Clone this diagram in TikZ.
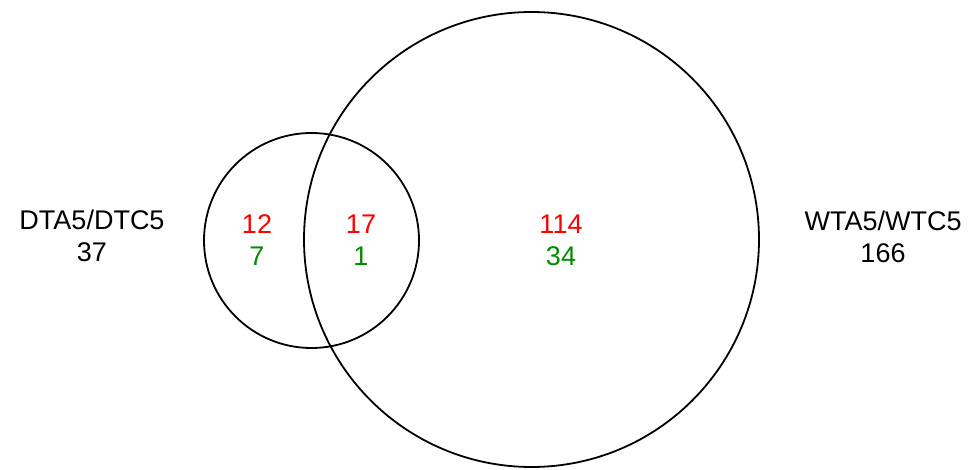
\documentclass[tikz,border=0pt]{standalone}
\usepackage{fontspec}
\setmainfont{Liberation Sans}
\usepackage{tikz}
\usetikzlibrary{positioning}
\usepackage{xcolor}
\definecolor{upred}{RGB}{255,0,0}
\definecolor{downgreen}{RGB}{0,140,0}

\begin{document}
\begin{tikzpicture}[x=1pt,y=-1pt,
set/.style={draw=black,line width=1.8pt,circle,inner sep=0pt},
num/.style={font=\fontsize{27}{32}\selectfont,align=center,inner sep=0pt}]
\useasboundingbox (0,0) rectangle (973,470);
% the two sets
\node[set,minimum size=215pt] (dt) at (311.5,240.5) {};
\node[set,minimum size=455pt] (wt) at (531.5,239.5) {};
% set names with totals
\node[num] (dtl) at (92,236) {DTA5/DTC5\\37};
\node[num] (wtl) at (883,237) {WTA5/WTC5\\166};
% counts per region
\node[num] (only) at (257,240) {\textcolor{upred}{12}\\\textcolor{downgreen}{7}};
\node[num] (both) at (361,240) {\textcolor{upred}{17}\\\textcolor{downgreen}{1}};
\node[num] (wonly) at (561,240) {\textcolor{upred}{114}\\\textcolor{downgreen}{34}};
\end{tikzpicture}
\end{document}
